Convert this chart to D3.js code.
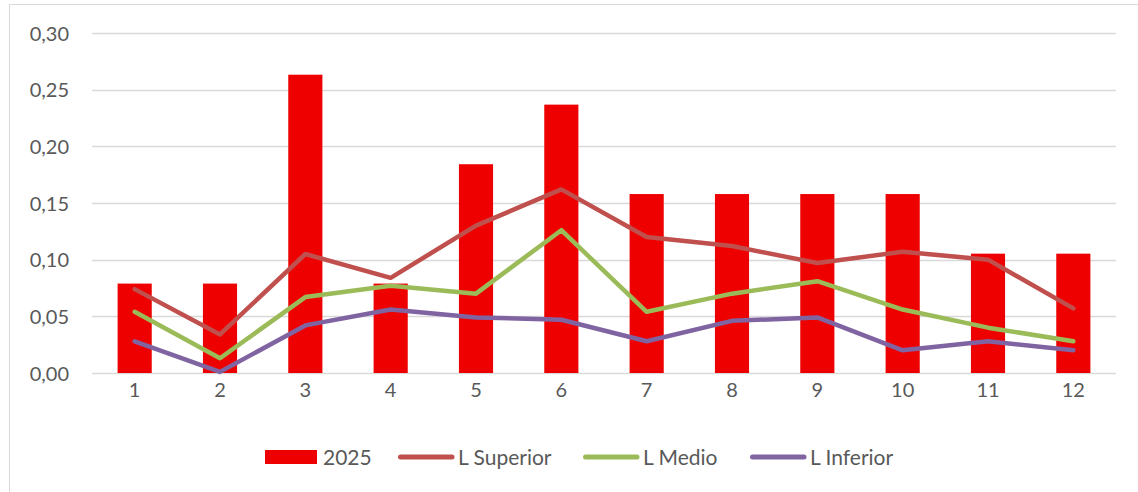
<!DOCTYPE html>
<html>
<head>
<meta charset="utf-8">
<script src="https://cdn.jsdelivr.net/npm/d3@7"></script>
<style>
    html, body { margin: 0; padding: 0; background: #fff; }
    svg text { font-family: Lato, "Liberation Sans", sans-serif; fill: #595959; }
</style>
</head>
<body>
<div id="chart"></div>
<script>
// Datos del gráfico
const months = ['1', '2', '3', '4', '5', '6', '7', '8', '9', '10', '11', '12'];
const values2025 = [0.0789, 0.0789, 0.2632, 0.0789, 0.1842, 0.2368, 0.1579, 0.1579, 0.1579, 0.1579, 0.1053, 0.1053];
const lSuperior = [0.074, 0.034, 0.105, 0.084, 0.130, 0.162, 0.120, 0.112, 0.097, 0.107, 0.100, 0.057];
const lMedio = [0.054, 0.013, 0.067, 0.077, 0.070, 0.126, 0.054, 0.070, 0.081, 0.056, 0.040, 0.028];
const lInferior = [0.028, 0.001, 0.042, 0.056, 0.049, 0.047, 0.028, 0.046, 0.049, 0.020, 0.028, 0.020];
const yTicks = [0, 0.05, 0.10, 0.15, 0.20, 0.25, 0.30];

const width = 1138;
const height = 492;
const margin = { top: 33, right: 22, bottom: 119, left: 92 };

const svg = d3.select('#chart')
    .append('svg')
    .attr('width', width)
    .attr('height', height);

// Marco del gráfico
svg.append('rect')
    .attr('x', 9.5)
    .attr('y', 4.5)
    .attr('width', width + 10)
    .attr('height', height + 10)
    .attr('fill', 'none')
    .attr('stroke', '#d9d9d9')
    .attr('stroke-width', 1);

const x = d3.scaleBand()
    .domain(months)
    .range([margin.left, width - margin.right])
    .paddingInner(0.6)
    .paddingOuter(0.3);

const xPoint = d => x(d) + x.bandwidth() / 2;

const y = d3.scaleLinear()
    .domain([0, 0.30])
    .range([height - margin.bottom, margin.top]);

// Líneas de cuadrícula
svg.append('g')
    .selectAll('line')
    .data(yTicks)
    .enter()
    .append('line')
    .attr('x1', margin.left)
    .attr('x2', width - margin.right)
    .attr('y1', d => Math.round(y(d)) + 0.5)
    .attr('y2', d => Math.round(y(d)) + 0.5)
    .attr('stroke', '#d9d9d9')
    .attr('stroke-width', 1.3);

// Eje Y
const yAxis = svg.append('g')
    .attr('transform', `translate(${margin.left - 23},0)`)
    .call(d3.axisLeft(y).tickValues(yTicks).tickSize(0).tickPadding(0)
        .tickFormat(d => d3.format('.2f')(d).replace('.', ',')));
yAxis.select('.domain').remove();
yAxis.selectAll('text')
    .attr('font-size', 20)
    .attr('dy', '0.35em');

// Eje X
const xAxis = svg.append('g')
    .attr('transform', `translate(0,${height - margin.bottom})`)
    .call(d3.axisBottom(x).tickSize(0).tickPadding(10));
xAxis.select('.domain').remove();
xAxis.selectAll('text')
    .attr('font-size', 20);

// Barras 2025
svg.append('g')
    .selectAll('rect')
    .data(values2025)
    .enter()
    .append('rect')
    .attr('x', (d, i) => x(months[i]))
    .attr('y', d => y(d))
    .attr('width', x.bandwidth())
    .attr('height', d => y(0) - y(d))
    .attr('fill', '#ee0000');

// Series de líneas
const series = [
    { name: 'L Superior', values: lSuperior, color: '#c0504d' },
    { name: 'L Medio', values: lMedio, color: '#9bbb59' },
    { name: 'L Inferior', values: lInferior, color: '#8064a2' }
];

const line = d3.line()
    .x((d, i) => xPoint(months[i]))
    .y(d => y(d));

series.forEach(s => {
    svg.append('path')
        .datum(s.values)
        .attr('d', line)
        .attr('fill', 'none')
        .attr('stroke', s.color)
        .attr('stroke-width', 4.5)
        .attr('stroke-linejoin', 'round')
        .attr('stroke-linecap', 'round');
});

// Leyenda
const legendItems = [{ name: '2025', color: '#ee0000', type: 'bar' }]
    .concat(series.map(s => ({ name: s.name, color: s.color, type: 'line' })));
const legendOffsets = [0, 133, 318, 485];

const legend = svg.append('g').attr('transform', 'translate(265,0)');
const legendY = 457;
legendItems.forEach((item, i) => {
    const g = legend.append('g').attr('transform', `translate(${legendOffsets[i]},0)`);
    if (item.type === 'bar') {
        g.append('rect')
            .attr('x', 0)
            .attr('y', legendY - 7)
            .attr('width', 52)
            .attr('height', 14)
            .attr('fill', item.color);
    } else {
        g.append('line')
            .attr('x1', 2.5)
            .attr('x2', 54)
            .attr('y1', legendY)
            .attr('y2', legendY)
            .attr('stroke', item.color)
            .attr('stroke-width', 5)
            .attr('stroke-linecap', 'round');
    }
    g.append('text')
        .attr('x', item.type === 'bar' ? 58 : 60)
        .attr('y', legendY)
        .attr('dy', '0.36em')
        .attr('font-size', 21)
        .text(item.name);
});
</script>
</body>
</html>
